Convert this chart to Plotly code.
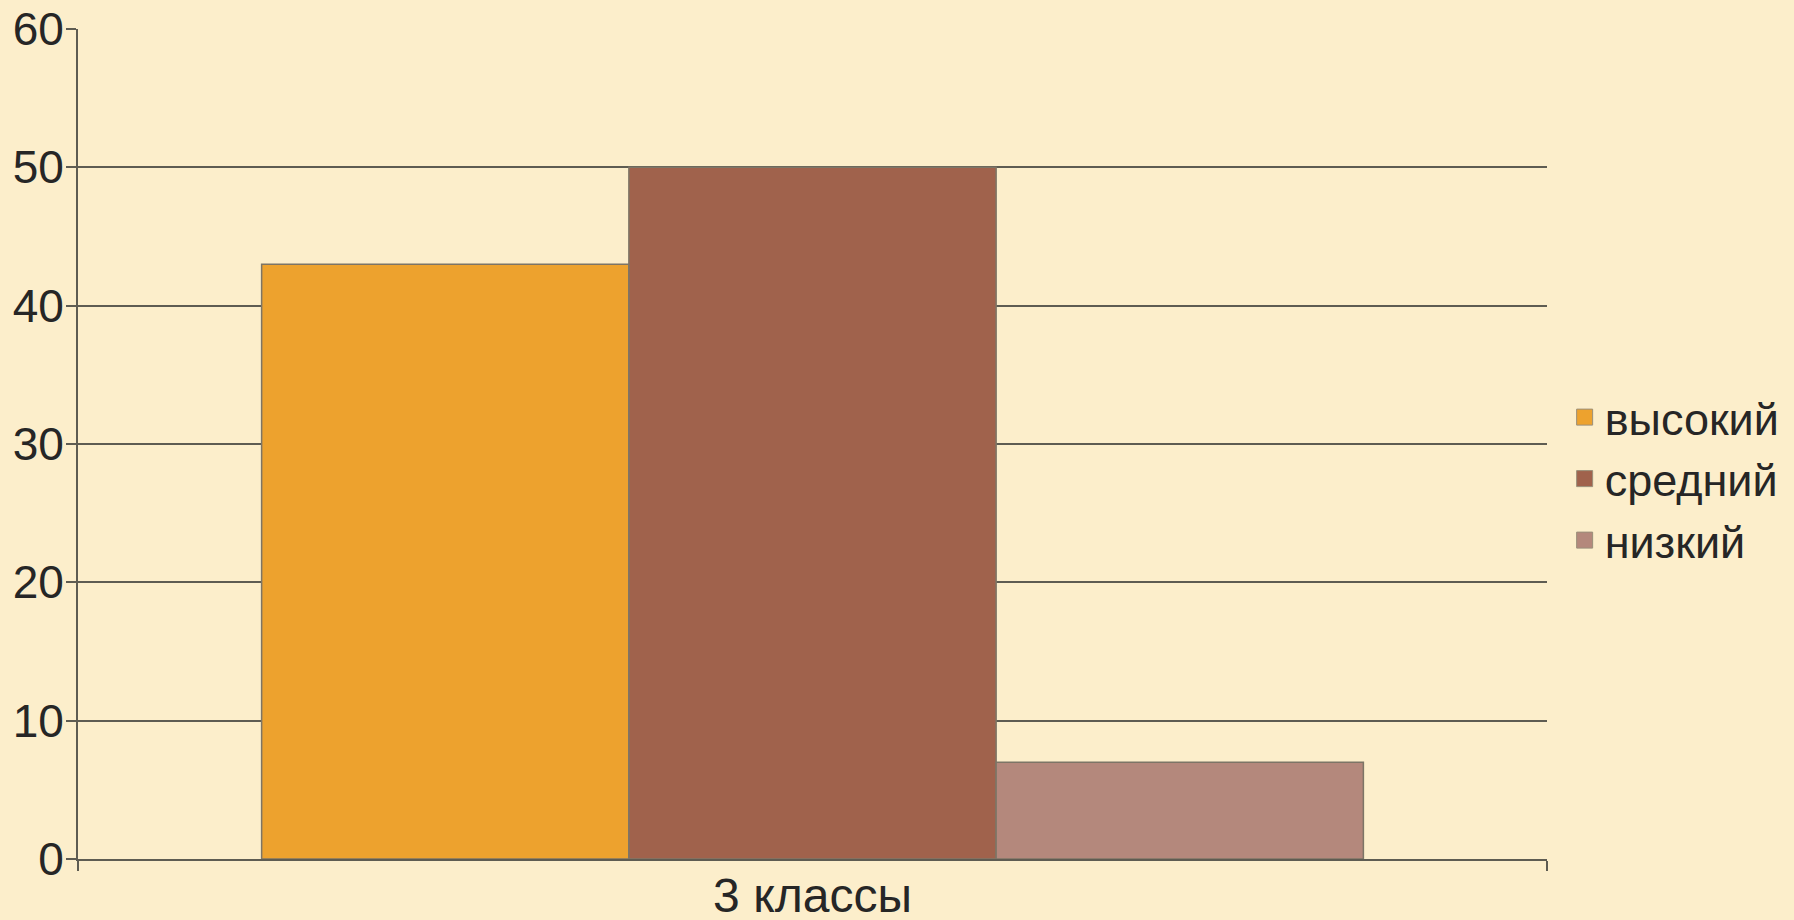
import plotly.graph_objects as go

# Data
categories = ["3 классы"]
series_names = ["высокий", "средний", "низкий"]
series_values = [[43], [50], [7]]
series_colors = ["#EDA22E", "#A0624C", "#B4887C"]

y_ticks = [0, 10, 20, 30, 40, 50, 60]

BG = "#FCEECB"
LINE = "#5E5C52"
TEXT = "#262626"
FONT = "Liberation Sans, Arial, sans-serif"

fig = go.Figure()
for name, vals, color in zip(series_names, series_values, series_colors):
    fig.add_trace(go.Bar(
        name=name,
        x=categories,
        y=vals,
        marker=dict(color=color, line=dict(color="#7d7566", width=1.5)),
        showlegend=False,
        legendgroup=name,
    ))

# Legend entries drawn as larger square swatches
for name, color in zip(series_names, series_colors):
    fig.add_trace(go.Scatter(
        name=name,
        x=[None],
        y=[None],
        mode="markers",
        marker=dict(symbol="square", size=16, color=color,
                    line=dict(color="#9a8f7a", width=1)),
        legendgroup=name,
        showlegend=True,
    ))

fig.update_layout(
    width=1794,
    height=920,
    barmode="group",
    bargap=0.25,
    bargroupgap=0,
    paper_bgcolor=BG,
    plot_bgcolor=BG,
    margin=dict(l=78, r=247, t=29, b=61, autoexpand=False),
    font=dict(family=FONT, size=48, color=TEXT),
    showlegend=True,
    legend=dict(
        x=1.012, xanchor="left",
        y=0.458, yanchor="middle",
        bgcolor="rgba(0,0,0,0)",
        font=dict(family=FONT, size=45, color=TEXT),
        itemwidth=30,
        tracegroupgap=0,
    ),
)

fig.update_xaxes(
    type="category",
    showline=True,
    linecolor=LINE,
    linewidth=2,
    ticks="outside",
    tickson="boundaries",
    ticklen=10,
    tickwidth=2,
    tickcolor=LINE,
    showgrid=False,
    ticklabelstandoff=-7,
    tickfont=dict(family=FONT, size=48, color=TEXT),
)

fig.update_yaxes(
    range=[0, 60],
    tickvals=y_ticks,
    showline=True,
    linecolor=LINE,
    linewidth=2,
    ticks="outside",
    ticklen=10,
    tickwidth=2,
    tickcolor=LINE,
    showgrid=True,
    gridcolor=LINE,
    gridwidth=2,
    zeroline=False,
    ticklabelstandoff=-7,
    tickfont=dict(family=FONT, size=46, color=TEXT),
)

fig.write_html("out.html")
